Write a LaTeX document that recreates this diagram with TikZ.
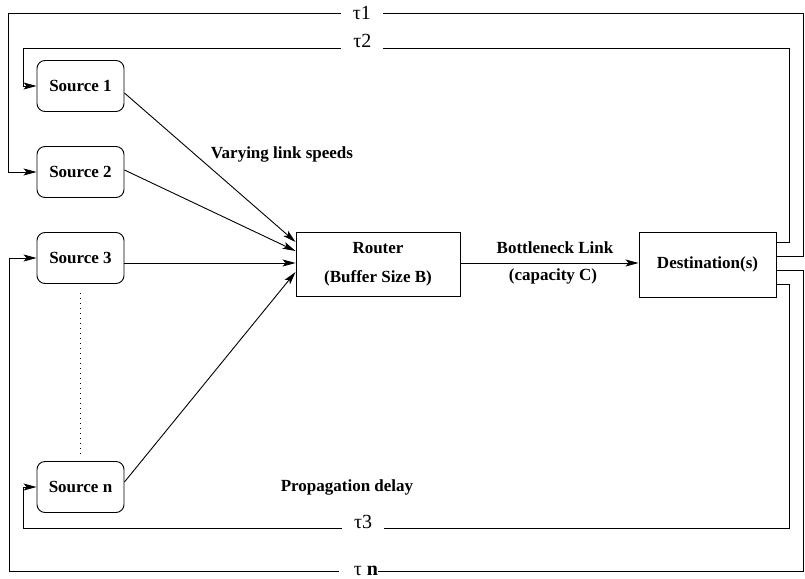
\documentclass[tikz,border=0pt]{standalone}
\usepackage{fontspec}
\setmainfont{Liberation Serif}
\usetikzlibrary{positioning,calc,arrows.meta}

\begin{document}
\begin{tikzpicture}[x=1pt,y=-1pt,line width=0.9pt,
  src/.style={draw, rounded corners=8pt, minimum width=87pt, minimum height=51pt,
    font=\fontsize{17}{20}\selectfont\bfseries},
  box/.style={draw, minimum height=64pt, align=center,
    font=\fontsize{17}{29}\selectfont\bfseries},
  lbl/.style={font=\fontsize{17}{20}\selectfont\bfseries},
  tau/.style={fill=white, inner xsep=12pt, inner ysep=1pt, font=\fontsize{20}{22}\selectfont},
  arr/.style={-{Stealth[length=13pt,width=7pt,inset=3pt]}},
  fb/.style={arr}]
\useasboundingbox (0,0) rectangle (805,578);
% sources
\node[src] (s1) at (80.5,86) {Source 1};
\node[src] (s2) at (80.5,172) {Source 2};
\node[src] (s3) at (80.5,258) {Source 3};
\node[src] (sn) at (80.5,487) {Source n};
\draw[dash pattern=on 1pt off 4pt, shorten <=9pt, shorten >=7pt] (s3) -- (sn);
% router and destination
\node[box, minimum width=164pt] (router) at (378,264) {Router\\(Buffer Size B)};
\node[box, minimum width=137pt, minimum height=65pt] (dest) at (707.5,264.5) {Destination(s)};
\coordinate (r1) at ([yshift=22pt]router.west);
\coordinate (r2) at ([yshift=13pt]router.west);
\coordinate (r3) at ([yshift=1pt]router.west);
\coordinate (r4) at ([yshift=-8pt]router.west);
\draw[arr] ([yshift=-7pt]s1.east) -- (r1);
\draw[arr] ([yshift=2pt]s2.east) -- (r2);
\draw[arr] (s3.east |- r3) -- (r3);
\draw[arr] ([yshift=5pt]sn.east) -- (r4);
\draw[arr] (router.east |- r3) -- (dest.west |- r3);
% labels
\node[lbl] (speeds) at (282,154) {Varying link speeds};
\node[lbl] (bneck) at (555,248) {Bottleneck Link};
\node[lbl] (capac) at (553,276) {(capacity C)};
\node[lbl] (delay) at (347,487) {Propagation delay};
% feedback loops
\draw[fb] ([yshift=8pt]dest.east) -| (803,13) -- node[tau, pos=0.555] {τ1} (8,13) |- (s2.west);
\draw[fb] ([yshift=22pt]dest.east) -| (789,48) -- node[tau, anchor=base, pos=0.557] {τ2} (23,48) |- (s1.west);
\draw[fb] ([yshift=-20pt]dest.east) -| (789,528) -- node[tau, anchor=base, pos=0.556] {τ3} (23,528) |- (sn.west);
\draw[fb] ([yshift=-6pt]dest.east) -| (803,571) -- node[tau, inner xsep=0pt, inner ysep=0pt, pos=0.56] {\hspace*{15pt}τ \textbf{n}} (9,571) |- (s3.west);
\end{tikzpicture}
\end{document}
